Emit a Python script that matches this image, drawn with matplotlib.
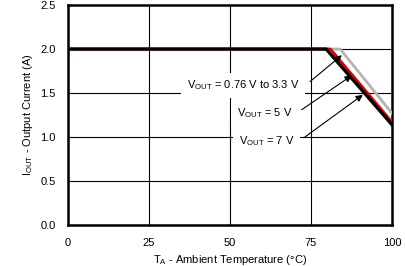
import matplotlib
matplotlib.use("Agg")
import matplotlib.pyplot as plt

plt.rcParams["font.family"] = ["Liberation Sans", "DejaVu Sans"]
plt.rcParams["mathtext.fontset"] = "custom"
plt.rcParams["mathtext.rm"] = "Liberation Sans"
plt.rcParams["mathtext.it"] = "Liberation Sans"

# derating curves (temperature in degC, current in A)
temp_0v76 = [0, 84.0, 100]
curr_0v76 = [2.0, 2.0, 1.27]
temp_5v = [0, 81.0, 100]
curr_5v = [2.0, 2.0, 1.17]
temp_7v = [0, 79.7, 100]
curr_7v = [2.0, 2.0, 1.14]

x_ticks = [0, 25, 50, 75, 100]
y_ticks = [0.0, 0.5, 1.0, 1.5, 2.0, 2.5]

labels = [r"V$_{\mathrm{OUT}}$ = 0.76 V to 3.3 V",
          r"V$_{\mathrm{OUT}}$ = 5 V",
          r"V$_{\mathrm{OUT}}$ = 7 V"]
label_pos = [(71.3, 1.59), (60.7, 1.27), (61.3, 0.95)]
label_ha = ["right", "center", "center"]
arrow_tail = [(74.7, 1.63), (72.1, 1.31), (73.1, 1.0)]
arrow_tip = [(84.5, 1.93), (87.6, 1.70), (91.0, 1.48)]

fig = plt.figure(figsize=(4.06, 2.66), dpi=100)
ax = fig.add_axes([0.1675, 0.154, 0.798, 0.827])

ax.plot(temp_0v76, curr_0v76, color="#b4b4b4", lw=2.0, zorder=3)
ax.plot(temp_5v, curr_5v, color="#e00000", lw=2.0, zorder=4)
ax.plot(temp_7v, curr_7v, color="black", lw=2.4, zorder=5)

for txt, pos, ha, tail, tip in zip(labels, label_pos, label_ha, arrow_tail, arrow_tip):
    ax.text(pos[0], pos[1], txt, ha=ha, va="center", fontsize=8, zorder=6,
            bbox=dict(boxstyle="square,pad=0.5", fc="white", ec="none"))
    ax.annotate("", xy=tip, xytext=tail,
                arrowprops=dict(arrowstyle="-|>", color="black", lw=0.8,
                                mutation_scale=10, shrinkA=0, shrinkB=0),
                zorder=7)

ax.set_xlim(0, 100)
ax.set_ylim(0, 2.5)
ax.set_xticks(x_ticks)
ax.set_yticks(y_ticks)
ax.set_yticklabels([f"{v:.1f}" for v in y_ticks])
ax.tick_params(length=0, labelsize=8, pad=9)
ax.grid(True, color="black", lw=0.8)
for s in ax.spines.values():
    s.set_linewidth(1.8)

ax.set_xlabel(r"T$_{\mathrm{A}}$ - Ambient Temperature (°C)", fontsize=8, labelpad=4)
ax.set_ylabel(r"I$_{\mathrm{OUT}}$ - Output Current (A)", fontsize=8, labelpad=4)

fig.savefig("out.png", dpi=100)
